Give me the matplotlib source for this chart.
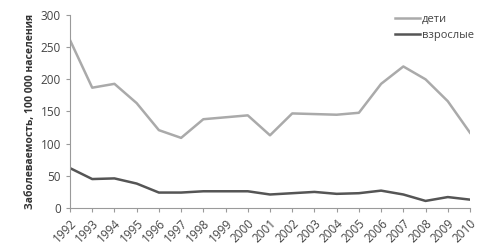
import matplotlib
matplotlib.use("Agg")
import matplotlib.pyplot as plt

years = list(range(1992, 2011))
children = [261, 187, 193, 163, 121, 109, 138, 141, 144, 113,
            147, 146, 145, 148, 193, 220, 200, 166, 117]
adults = [62, 45, 46, 38, 24, 24, 26, 26, 26, 21,
          23, 25, 22, 23, 27, 21, 11, 17, 13]

LIGHT = "#aaaaaa"
DARK = "#555555"
AXIS = "#9a9a9a"

plt.rcParams["font.family"] = ["Open Sans", "DejaVu Sans"]

fig = plt.figure(figsize=(5, 2.5), dpi=100)
ax = fig.add_axes([0.14, 0.168, 0.80, 0.772])

x = list(range(len(years)))
ax.plot(x, children, color=LIGHT, linewidth=1.8, label="дети")
ax.plot(x, adults, color=DARK, linewidth=1.8, label="взрослые")

ax.set_xlim(0, len(years) - 1)
ax.set_ylim(0, 300)
ax.set_yticks(range(0, 301, 50))
ax.set_xticks(x)
ax.set_xticklabels([str(y) for y in years], rotation=45, ha="right",
                   rotation_mode="anchor")
ax.tick_params(axis="both", labelsize=8.5, colors=AXIS, labelcolor="#444444",
               length=3, width=0.8)
ax.set_ylabel("Заболеваемость, 100 000 населения", fontsize=7.5,
              fontweight="bold", color="#333333", labelpad=3)

for side in ["top", "right"]:
    ax.spines[side].set_visible(False)
for side in ["left", "bottom"]:
    ax.spines[side].set_color(AXIS)
    ax.spines[side].set_linewidth(0.8)

ax.legend(loc="upper right", bbox_to_anchor=(1.035, 1.06), frameon=False,
          fontsize=8, handlelength=2.2, handletextpad=0.2,
          labelcolor="#444444")

fig.savefig("out.png", dpi=100)
